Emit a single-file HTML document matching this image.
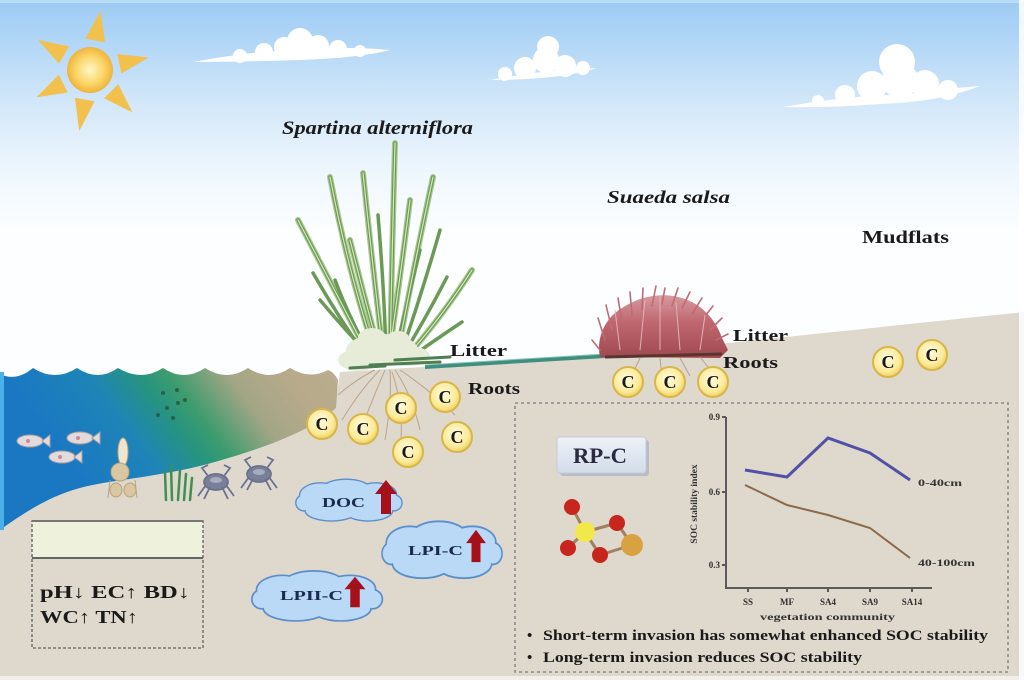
<!DOCTYPE html>
<html><head><meta charset="utf-8"><style>
html,body{margin:0;padding:0;background:#fff;}
svg{display:block;}
text{font-family:"Liberation Serif",serif;}
</style></head><body>
<svg width="1024" height="680" viewBox="0 0 1024 680" xmlns="http://www.w3.org/2000/svg">
<defs>
 <linearGradient id="sky" x1="0" y1="0" x2="0" y2="680" gradientUnits="userSpaceOnUse">
  <stop offset="0" stop-color="#9ecbf3"/>
  <stop offset="0.044" stop-color="#abd3f6"/>
  <stop offset="0.15" stop-color="#d2e7f9"/>
  <stop offset="0.25" stop-color="#eef6fd"/>
  <stop offset="0.34" stop-color="#fcfeff"/>
  <stop offset="1" stop-color="#ffffff"/>
 </linearGradient>
 <radialGradient id="sun" cx="0.5" cy="0.5" r="0.5">
  <stop offset="0" stop-color="#fff6c8"/>
  <stop offset="0.6" stop-color="#fbd66a"/>
  <stop offset="1" stop-color="#eeb43a"/>
 </radialGradient>
 <linearGradient id="water" x1="60" y1="450" x2="300" y2="270" gradientUnits="userSpaceOnUse">
  <stop offset="0" stop-color="#1a78c2"/>
  <stop offset="0.22" stop-color="#1e84b8"/>
  <stop offset="0.36" stop-color="#279480"/>
  <stop offset="0.44" stop-color="#3c9c6e"/>
  <stop offset="0.6" stop-color="#a3a686"/>
  <stop offset="0.75" stop-color="#b7aa8a"/>
  <stop offset="1" stop-color="#bcae8e"/>
 </linearGradient>
 <radialGradient id="cc" cx="0.45" cy="0.4" r="0.6">
  <stop offset="0" stop-color="#fffbe0"/>
  <stop offset="0.7" stop-color="#fbeb9a"/>
  <stop offset="1" stop-color="#efd060"/>
 </radialGradient>
 <linearGradient id="bush" x1="0" y1="292" x2="0" y2="358" gradientUnits="userSpaceOnUse">
  <stop offset="0" stop-color="#d9a0a6"/>
  <stop offset="0.45" stop-color="#c06870"/>
  <stop offset="1" stop-color="#a04850"/>
 </linearGradient>
 <linearGradient id="rpc" x1="0" y1="0" x2="0" y2="1">
  <stop offset="0" stop-color="#eef2f8"/>
  <stop offset="1" stop-color="#d3dcea"/>
 </linearGradient>
 <g id="cloudS">
  <ellipse cx="0" cy="0" rx="50" ry="17"/>
  <ellipse cx="-30" cy="-6" rx="22" ry="13"/>
  <ellipse cx="-2" cy="-12" rx="26" ry="11"/>
  <ellipse cx="30" cy="-7" rx="22" ry="12"/>
  <ellipse cx="-18" cy="10" rx="28" ry="11"/>
  <ellipse cx="22" cy="10" rx="26" ry="11"/>
  <ellipse cx="-48" cy="2" rx="8" ry="8"/>
  <ellipse cx="50" cy="2" rx="8" ry="8"/>
 </g>
 <g id="arrowUp">
  <polygon points="0,-17 11,-3 5,-3 5,17 -5,17 -5,-3 -11,-3" fill="#a5101a"/>
 </g>
</defs>

<!-- sky -->
<rect x="0" y="0" width="1024" height="680" fill="url(#sky)"/>
<rect x="0" y="0" width="1024" height="3" fill="#b9dcf8"/>

<!-- sun -->
<g fill="#f2c04c">
 <g transform="rotate(10 90 70)"><polygon points="80,40 100,40 90,10"/></g>
 <g transform="rotate(78 90 70)"><polygon points="80,40 100,40 90,10"/></g>
 <g transform="rotate(135 90 70)"><polygon points="80,40 100,40 90,10"/></g>
 <g transform="rotate(190 90 70)"><polygon points="80,40 100,40 90,8"/></g>
 <g transform="rotate(243 90 70)"><polygon points="80,40 100,40 90,10"/></g>
 <g transform="rotate(300 90 70)"><polygon points="80,40 100,40 90,10"/></g>
</g>
<circle cx="90" cy="70" r="23" fill="url(#sun)"/>

<!-- sky clouds -->
<g fill="#ffffff">
 <path d="M193,62 Q260,50 300,50 Q350,46 390,50 Q360,58 300,60 Q240,62 193,62 Z"/>
 <circle cx="300" cy="41" r="13"/>
 <circle cx="284" cy="47" r="10"/>
 <circle cx="318" cy="46" r="11"/>
 <circle cx="264" cy="52" r="9"/>
 <circle cx="338" cy="49" r="9"/>
 <circle cx="240" cy="56" r="7"/>
 <circle cx="360" cy="51" r="6"/>

 <path d="M490,80 Q540,70 597,68 Q560,80 490,80 Z"/>
 <circle cx="548" cy="47" r="11"/>
 <circle cx="546" cy="60" r="13"/>
 <circle cx="525" cy="68" r="11"/>
 <circle cx="565" cy="66" r="11"/>
 <circle cx="505" cy="74" r="7"/>
 <circle cx="583" cy="68" r="7"/>

 <path d="M783,107 Q860,94 900,95 Q950,88 980,86 Q940,102 880,104 Q830,108 783,107 Z"/>
 <circle cx="897" cy="62" r="18"/>
 <circle cx="900" cy="80" r="18"/>
 <circle cx="872" cy="86" r="15"/>
 <circle cx="925" cy="84" r="14"/>
 <circle cx="845" cy="95" r="10"/>
 <circle cx="948" cy="90" r="10"/>
 <circle cx="818" cy="101" r="6"/>
</g>

<!-- ground -->
<path d="M0,530 C25,512 50,496 80,488 C110,480 150,478 200,466 C260,450 310,432 335,408 L340,372 L440,366 L605,356 L1024,312 L1024,680 L0,680 Z" fill="#dfd8cc"/>

<!-- water -->
<path d="M0,374 Q16,382 33,368 Q55,382 77,368 Q98,382 118,368 Q141,382 163,368 Q184,382 205,368 Q227,382 248,368 Q269,382 290,368 Q310,380 328,370 Q334,372 338,380 L336,408 C310,432 260,450 200,466 C150,478 110,480 80,488 C50,496 25,512 0,530 Z" fill="url(#water)"/>
<rect x="0" y="372" width="4" height="158" fill="#4cb0e8"/>

<!-- plankton dots -->
<g fill="#2a6048">
 <circle cx="163" cy="393" r="2"/><circle cx="177" cy="390" r="2"/><circle cx="185" cy="400" r="2"/>
 <circle cx="167" cy="408" r="2"/><circle cx="178" cy="403" r="2"/><circle cx="158" cy="415" r="2"/>
 <circle cx="173" cy="418" r="2"/>
</g>

<!-- fish -->
<g fill="#e2dadb" stroke="#a79fa6" stroke-width="1">
 <g transform="translate(30,441)"><ellipse cx="0" cy="0" rx="13" ry="6"/><polygon points="12,0 20,-6 20,6"/><circle cx="-2" cy="0" r="2" fill="#c98a95" stroke="none"/></g>
 <g transform="translate(80,438)"><ellipse cx="0" cy="0" rx="13" ry="6"/><polygon points="12,0 20,-6 20,6"/><circle cx="-2" cy="0" r="2" fill="#c98a95" stroke="none"/></g>
 <g transform="translate(62,457)"><ellipse cx="0" cy="0" rx="13" ry="6"/><polygon points="12,0 20,-6 20,6"/><circle cx="-2" cy="0" r="2" fill="#c98a95" stroke="none"/></g>
</g>

<!-- sea creature -->
<g fill="#d8c7a2" stroke="#b9a47c" stroke-width="1">
 <ellipse cx="123" cy="452" rx="5" ry="14" fill="#efe6d2"/>
 <ellipse cx="120" cy="472" rx="9" ry="9"/>
 <ellipse cx="116" cy="490" rx="6" ry="7"/>
 <ellipse cx="130" cy="490" rx="6" ry="7"/>
 <line x1="110" y1="480" x2="108" y2="498"/><line x1="135" y1="480" x2="137" y2="498"/>
</g>

<!-- seagrass -->
<g stroke="#3f8f55" stroke-width="2.5" stroke-linecap="round" fill="none">
 <path d="M166,500 L165,472"/><path d="M172,500 L171,466"/><path d="M178,500 L180,470"/><path d="M184,500 L186,474"/><path d="M190,500 L192,478"/>
</g>

<!-- crabs -->
<g stroke="#6b7090" stroke-width="1.8" fill="#7a7f98">
 <g transform="translate(216,482)">
  <ellipse cx="0" cy="0" rx="12" ry="8"/>
  <line x1="-10" y1="3" x2="-18" y2="14"/><line x1="-6" y1="5" x2="-12" y2="17"/><line x1="10" y1="3" x2="18" y2="14"/><line x1="6" y1="5" x2="12" y2="17"/>
  <path d="M-8,-6 L-14,-14 L-8,-17" fill="none"/><path d="M8,-6 L14,-14 L8,-17" fill="none"/>
  <ellipse cx="0" cy="-2" rx="6" ry="3" fill="#a8acc0" stroke="none"/>
 </g>
 <g transform="translate(259,474)">
  <ellipse cx="0" cy="0" rx="12" ry="8"/>
  <line x1="-10" y1="3" x2="-18" y2="14"/><line x1="-6" y1="5" x2="-12" y2="16"/><line x1="10" y1="3" x2="18" y2="14"/><line x1="6" y1="5" x2="12" y2="16"/>
  <path d="M-8,-6 L-14,-14 L-8,-17" fill="none"/><path d="M8,-6 L14,-14 L8,-17" fill="none"/>
  <ellipse cx="0" cy="-2" rx="6" ry="3" fill="#a8acc0" stroke="none"/>
 </g>
</g>

<!-- teal litter line -->
<path d="M425,367 L605,356" stroke="#3f8f80" stroke-width="4"/>
<path d="M425,365 L605,354" stroke="#8cc4b4" stroke-width="1"/>

<!-- spartina roots -->
<g stroke="#bba58c" stroke-width="1" fill="none">
 <path d="M380,370 Q360,390 342,420"/><path d="M385,370 Q372,400 360,432"/><path d="M390,370 Q392,400 385,440"/>
 <path d="M395,370 Q412,395 420,430"/><path d="M400,370 Q430,390 455,415"/><path d="M375,370 Q355,380 338,395"/>
 <path d="M392,372 Q405,410 400,450"/>
</g>

<!-- spartina grass -->
<g stroke-linecap="round" fill="none">
 <g stroke="#a9c98e" stroke-width="6">
  <path d="M372,362 Q340,300 298,220"/>
  <path d="M378,362 Q350,280 330,177"/>
  <path d="M384,362 Q372,260 363,173"/>
  <path d="M390,362 Q392,250 395,143"/>
  <path d="M396,362 Q415,260 433,177"/>
  <path d="M402,362 Q440,320 472,270"/>
  <path d="M388,362 Q400,280 410,200"/>
  <path d="M382,362 Q365,300 350,240"/>
 </g>
 <g stroke="#6a9a55" stroke-width="3.5">
  <path d="M372,362 Q340,300 298,220"/>
  <path d="M370,362 Q340,320 313,273"/>
  <path d="M378,362 Q350,280 330,177"/>
  <path d="M384,362 Q372,260 363,173"/>
  <path d="M390,362 Q392,250 395,143"/>
  <path d="M396,362 Q415,260 433,177"/>
  <path d="M402,362 Q440,320 472,270"/>
  <path d="M399,362 Q425,320 447,277"/>
  <path d="M388,362 Q400,280 410,200"/>
  <path d="M382,362 Q365,300 350,240"/>
  <path d="M393,362 Q408,300 420,250"/>
  <path d="M376,362 Q345,330 320,300"/>
  <path d="M404,362 Q435,340 462,322"/>
  <path d="M374,362 Q350,320 335,280"/>
  <path d="M386,362 Q385,300 378,215"/>
  <path d="M398,362 Q420,300 440,230"/>
 </g>
 <g stroke="#d6e6c0" stroke-width="1.2">
  <path d="M372,362 Q340,300 298,220"/>
  <path d="M378,362 Q350,280 330,177"/>
  <path d="M384,362 Q372,260 363,173"/>
  <path d="M390,362 Q392,250 395,143"/>
  <path d="M396,362 Q415,260 433,177"/>
  <path d="M402,362 Q440,320 472,270"/>
  <path d="M388,362 Q400,280 410,200"/>
  <path d="M382,362 Q365,300 350,240"/>
 </g>
</g>
<g fill="#e6ecd8">
 <ellipse cx="382" cy="350" rx="36" ry="16"/>
 <ellipse cx="358" cy="360" rx="20" ry="11"/>
 <ellipse cx="408" cy="356" rx="22" ry="10"/>
 <ellipse cx="372" cy="338" rx="14" ry="10"/>
 <ellipse cx="398" cy="340" rx="12" ry="9"/>
</g>
<g stroke="#4f7f52" stroke-width="3" stroke-linecap="round">
 <path d="M370,365 L440,362"/><path d="M395,360 L450,357"/><path d="M350,368 L385,366"/>
</g>

<!-- suaeda -->
<path d="M600,357 C596,338 605,318 622,308 C640,296 662,292 682,298 C702,304 716,320 722,338 L728,350 L720,358 Z" fill="url(#bush)"/>
<g stroke="#c26a73" stroke-width="1.6" stroke-linecap="round" fill="none">
 <path d="M605,340 L598,318"/><path d="M612,330 L606,305"/><path d="M622,322 L618,298"/><path d="M632,315 L630,292"/>
 <path d="M642,310 L643,288"/><path d="M652,306 L656,286"/><path d="M662,304 L665,288"/><path d="M672,306 L678,288"/>
 <path d="M682,308 L690,292"/><path d="M692,314 L702,298"/><path d="M702,320 L713,306"/><path d="M710,330 L722,318"/>
 <path d="M716,340 L728,334"/><path d="M600,350 L592,340"/>
</g>
<g stroke="#e2b0b5" stroke-width="1" fill="none">
 <path d="M620,350 L615,310"/><path d="M640,350 L645,300"/><path d="M660,350 L660,296"/><path d="M680,350 L676,302"/><path d="M700,350 L705,315"/>
</g>
<path d="M605,357 L722,354" stroke="#5a3530" stroke-width="3"/>
<g stroke="#b7a08a" stroke-width="1" fill="none">
 <path d="M640,358 L632,375"/><path d="M660,358 L662,378"/><path d="M680,358 L690,376"/><path d="M700,357 L712,372"/>
</g>

<!-- C circles -->
<g>
 <g transform="translate(322,424)"><circle r="15" fill="url(#cc)" stroke="#d9b64a" stroke-width="2"/><text x="0" y="6" text-anchor="middle" font-size="18" font-weight="bold" fill="#1a1a1a">C</text></g>
 <g transform="translate(363,429)"><circle r="15" fill="url(#cc)" stroke="#d9b64a" stroke-width="2"/><text x="0" y="6" text-anchor="middle" font-size="18" font-weight="bold" fill="#1a1a1a">C</text></g>
 <g transform="translate(401,408)"><circle r="15" fill="url(#cc)" stroke="#d9b64a" stroke-width="2"/><text x="0" y="6" text-anchor="middle" font-size="18" font-weight="bold" fill="#1a1a1a">C</text></g>
 <g transform="translate(445,397)"><circle r="15" fill="url(#cc)" stroke="#d9b64a" stroke-width="2"/><text x="0" y="6" text-anchor="middle" font-size="18" font-weight="bold" fill="#1a1a1a">C</text></g>
 <g transform="translate(457,437)"><circle r="15" fill="url(#cc)" stroke="#d9b64a" stroke-width="2"/><text x="0" y="6" text-anchor="middle" font-size="18" font-weight="bold" fill="#1a1a1a">C</text></g>
 <g transform="translate(408,452)"><circle r="15" fill="url(#cc)" stroke="#d9b64a" stroke-width="2"/><text x="0" y="6" text-anchor="middle" font-size="18" font-weight="bold" fill="#1a1a1a">C</text></g>
 <g transform="translate(628,382)"><circle r="15" fill="url(#cc)" stroke="#d9b64a" stroke-width="2"/><text x="0" y="6" text-anchor="middle" font-size="18" font-weight="bold" fill="#1a1a1a">C</text></g>
 <g transform="translate(670,382)"><circle r="15" fill="url(#cc)" stroke="#d9b64a" stroke-width="2"/><text x="0" y="6" text-anchor="middle" font-size="18" font-weight="bold" fill="#1a1a1a">C</text></g>
 <g transform="translate(713,382)"><circle r="15" fill="url(#cc)" stroke="#d9b64a" stroke-width="2"/><text x="0" y="6" text-anchor="middle" font-size="18" font-weight="bold" fill="#1a1a1a">C</text></g>
 <g transform="translate(888,362)"><circle r="15" fill="url(#cc)" stroke="#d9b64a" stroke-width="2"/><text x="0" y="6" text-anchor="middle" font-size="18" font-weight="bold" fill="#1a1a1a">C</text></g>
 <g transform="translate(932,355)"><circle r="15" fill="url(#cc)" stroke="#d9b64a" stroke-width="2"/><text x="0" y="6" text-anchor="middle" font-size="18" font-weight="bold" fill="#1a1a1a">C</text></g>
</g>

<!-- labels -->
<g fill="#1a1a1a" font-weight="bold">
 <text x="282" y="134" font-size="19" font-style="italic" textLength="191" lengthAdjust="spacingAndGlyphs">Spartina alterniflora</text>
 <text x="607" y="203" font-size="18" font-style="italic" textLength="123" lengthAdjust="spacingAndGlyphs">Suaeda salsa</text>
 <text x="862" y="243" font-size="18" textLength="87" lengthAdjust="spacingAndGlyphs">Mudflats</text>
 <text x="450" y="356" font-size="17" textLength="57" lengthAdjust="spacingAndGlyphs">Litter</text>
 <text x="468" y="394" font-size="17" textLength="52" lengthAdjust="spacingAndGlyphs">Roots</text>
 <text x="733" y="341" font-size="17" textLength="55" lengthAdjust="spacingAndGlyphs">Litter</text>
 <text x="723" y="368" font-size="17" textLength="55" lengthAdjust="spacingAndGlyphs">Roots</text>
</g>

<!-- blue clouds -->
<g stroke="#5b8fcc" stroke-width="3" fill="#5b8fcc">
 <use href="#cloudS" transform="translate(348,501) scale(0.92,0.92)"/>
 <use href="#cloudS" transform="translate(441,551) scale(1.04,1.25)"/>
 <use href="#cloudS" transform="translate(316,597) scale(1.13,1.1)"/>
</g>
<g fill="#b9d9f6">
 <use href="#cloudS" transform="translate(348,501) scale(0.92,0.92)"/>
 <use href="#cloudS" transform="translate(441,551) scale(1.04,1.25)"/>
 <use href="#cloudS" transform="translate(316,597) scale(1.13,1.1)"/>
</g>
<g fill="#1a2a50" font-weight="bold" font-size="14">
 <text x="322" y="507" textLength="43" lengthAdjust="spacingAndGlyphs">DOC</text>
 <text x="408" y="555" textLength="55" lengthAdjust="spacingAndGlyphs">LPI-C</text>
 <text x="280" y="600" textLength="63" lengthAdjust="spacingAndGlyphs">LPII-C</text>
</g>
<use href="#arrowUp" transform="translate(386,497)"/>
<use href="#arrowUp" transform="translate(476,546) scale(0.9,0.95)"/>
<use href="#arrowUp" transform="translate(355,592) scale(0.95,0.9)"/>

<!-- left box -->
<rect x="32" y="521" width="171" height="37" fill="#eef1dc"/>
<rect x="32" y="521" width="171" height="127" fill="none" stroke="#777" stroke-width="1.6" stroke-dasharray="3,2"/>
<line x1="32" y1="521" x2="203" y2="521" stroke="#777" stroke-width="2"/>
<line x1="32" y1="558" x2="203" y2="558" stroke="#666" stroke-width="2"/>
<g fill="#1a1a1a" font-weight="bold" font-size="18">
 <text x="40" y="598" textLength="150" lengthAdjust="spacingAndGlyphs">pH↓ EC↑ BD↓</text>
 <text x="40" y="623" textLength="98" lengthAdjust="spacingAndGlyphs">WC↑ TN↑</text>
</g>

<!-- right box -->
<rect x="515" y="403" width="493" height="269" fill="none" stroke="#8a8a8a" stroke-width="1.6" stroke-dasharray="3,3"/>
<rect x="560" y="440" width="89" height="36" rx="3" fill="#b8bcc6"/>
<rect x="557" y="437" width="89" height="36" rx="3" fill="url(#rpc)" stroke="#c4ccd8" stroke-width="1"/>
<text x="573" y="463" font-size="22" font-weight="bold" fill="#2a2a40" textLength="54" lengthAdjust="spacingAndGlyphs">RP-C</text>

<!-- molecule -->
<g stroke="#a08060" stroke-width="3">
 <line x1="585" y1="532" x2="572" y2="507"/><line x1="585" y1="532" x2="617" y2="523"/>
 <line x1="585" y1="532" x2="568" y2="548"/><line x1="585" y1="532" x2="600" y2="555"/>
 <line x1="632" y1="545" x2="617" y2="523"/><line x1="632" y1="545" x2="600" y2="555"/>
</g>
<g fill="#c8261c">
 <circle cx="572" cy="507" r="8"/><circle cx="617" cy="523" r="8"/><circle cx="568" cy="548" r="8"/><circle cx="600" cy="555" r="8"/>
</g>
<circle cx="585" cy="532" r="10" fill="#f2e84a"/>
<circle cx="632" cy="545" r="11" fill="#d9a240"/>

<!-- chart -->
<g stroke="#5a5a5a" stroke-width="2" fill="none">
 <path d="M726,417 L726,588 L932,588"/>
 <path d="M722,417 L726,417 M722,492 L726,492 M722,565 L726,565"/>
 <path d="M748,588 L748,592 M787,588 L787,592 M828,588 L828,592 M870,588 L870,592 M912,588 L912,592"/>
</g>
<polyline points="745,470 787,477 828,438 870,453 910,480" fill="none" stroke="#5151a8" stroke-width="3"/>
<polyline points="745,485 787,505 828,515 870,528 910,558" fill="none" stroke="#8a6a4a" stroke-width="2"/>
<g fill="#333" font-weight="bold" font-size="9">
 <text x="720" y="420" text-anchor="end">0.9</text>
 <text x="720" y="495" text-anchor="end">0.6</text>
 <text x="720" y="568" text-anchor="end">0.3</text>
 <text x="748" y="605" text-anchor="middle">SS</text>
 <text x="787" y="605" text-anchor="middle">MF</text>
 <text x="828" y="605" text-anchor="middle">SA4</text>
 <text x="870" y="605" text-anchor="middle">SA9</text>
 <text x="912" y="605" text-anchor="middle">SA14</text>
 <text x="760" y="620" textLength="135" lengthAdjust="spacingAndGlyphs">vegetation community</text>
 <text x="918" y="486" textLength="44" lengthAdjust="spacingAndGlyphs">0-40cm</text>
 <text x="918" y="566" textLength="57" lengthAdjust="spacingAndGlyphs">40-100cm</text>
 <text transform="translate(697,504) rotate(-90)" text-anchor="middle" font-size="9.5">SOC stability index</text>
</g>
<g fill="#1a1a1a" font-weight="bold" font-size="15">
 <text x="527" y="640">•</text>
 <text x="543" y="640" textLength="445" lengthAdjust="spacingAndGlyphs">Short-term invasion has somewhat enhanced SOC stability</text>
 <text x="527" y="662">•</text>
 <text x="543" y="662" textLength="319" lengthAdjust="spacingAndGlyphs">Long-term invasion reduces SOC stability</text>
</g>

<rect x="1019" y="0" width="5" height="680" fill="#ffffff" opacity="0.85"/>
<rect x="0" y="676" width="1024" height="4" fill="#ffffff" opacity="0.6"/>
</svg>
</body></html>
